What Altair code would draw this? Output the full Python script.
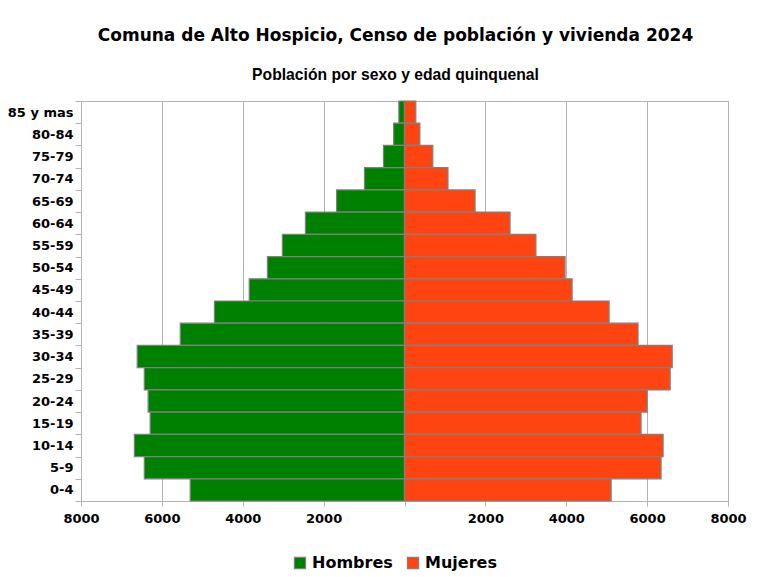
import altair as alt
import pandas as pd

edades = ["85 y mas", "80-84", "75-79", "70-74", "65-69", "60-64", "55-59", "50-54",
          "45-49", "40-44", "35-39", "30-34", "25-29", "20-24", "15-19", "10-14", "5-9", "0-4"]
hombres = [140, 270, 520, 990, 1680, 2450, 3020, 3390, 3840, 4700, 5545, 6610, 6435, 6340,
           6290, 6680, 6435, 5300]
mujeres = [280, 380, 700, 1075, 1745, 2610, 3250, 3970, 4145, 5060, 5775, 6620, 6570, 6000,
           5850, 6395, 6345, 5110]
sexos = ["Hombres", "Mujeres"]
colores = ["#008000", "#ff4411"]
ticks_x = [-8000, -6000, -4000, -2000, 0, 2000, 4000, 6000, 8000]

rows = []
for e, h, m in zip(edades, hombres, mujeres):
    rows.append({"edad": e, "sexo": "Hombres", "valor": -h})
    rows.append({"edad": e, "sexo": "Mujeres", "valor": m})
df = pd.DataFrame(rows)

chart = alt.Chart(df).mark_bar(stroke="#808080", strokeWidth=1.2).encode(
    x=alt.X("valor:Q",
            scale=alt.Scale(domain=[-8000, 8000], nice=False, zero=False),
            axis=alt.Axis(values=ticks_x, title=None,
                          labelExpr="datum.value == 0 ? '' : format(abs(datum.value), 'd')",
                          labelFont="DejaVu Sans", labelFontWeight="bold", labelFontSize=13,
                          labelColor="#000000", labelPadding=6, tickSize=5,
                          tickColor="#b3b3b3", domainColor="#b3b3b3",
                          gridColor="#b3b3b3", labelFlush=False)),
    y=alt.Y("edad:N", sort=edades,
            scale=alt.Scale(paddingInner=0, paddingOuter=0),
            axis=alt.Axis(title=None, tickBand="extent", grid=False,
                          labelFont="DejaVu Sans", labelFontWeight="bold", labelFontSize=13,
                          labelColor="#000000", labelPadding=2, tickSize=6,
                          tickColor="#b3b3b3", domainColor="#b3b3b3")),
    color=alt.Color("sexo:N",
                    scale=alt.Scale(domain=sexos, range=colores),
                    legend=alt.Legend(title=None, orient="none", direction="horizontal",
                                      legendX=211, legendY=454,
                                      symbolType="square", symbolSize=125,
                                      symbolStrokeColor="#808080", symbolStrokeWidth=1.2,
                                      labelFont="DejaVu Sans", labelFontWeight="bold",
                                      labelFontSize=16, labelColor="#000000",
                                      labelOffset=4, columnPadding=12)),
).properties(
    width=647,
    height=400,
    autosize=alt.AutoSizeParams(type="none"),
    padding={"left": 73, "top": 93, "right": 40, "bottom": 75},
    title=alt.TitleParams(
        text="Comuna de Alto Hospicio, Censo de población y vivienda 2024",
        subtitle="Población por sexo y edad quinquenal",
        font="DejaVu Sans", fontSize=17, fontWeight="bold", color="#000000",
        subtitleFont="Liberation Sans", subtitleFontSize=15.7, subtitleFontWeight="bold",
        subtitleColor="#000000", subtitlePadding=23, offset=11, anchor="middle", dx=-9),
).configure_view(stroke="#b3b3b3")

chart.save("out.html", embed_options={"renderer": "svg", "actions": False})
